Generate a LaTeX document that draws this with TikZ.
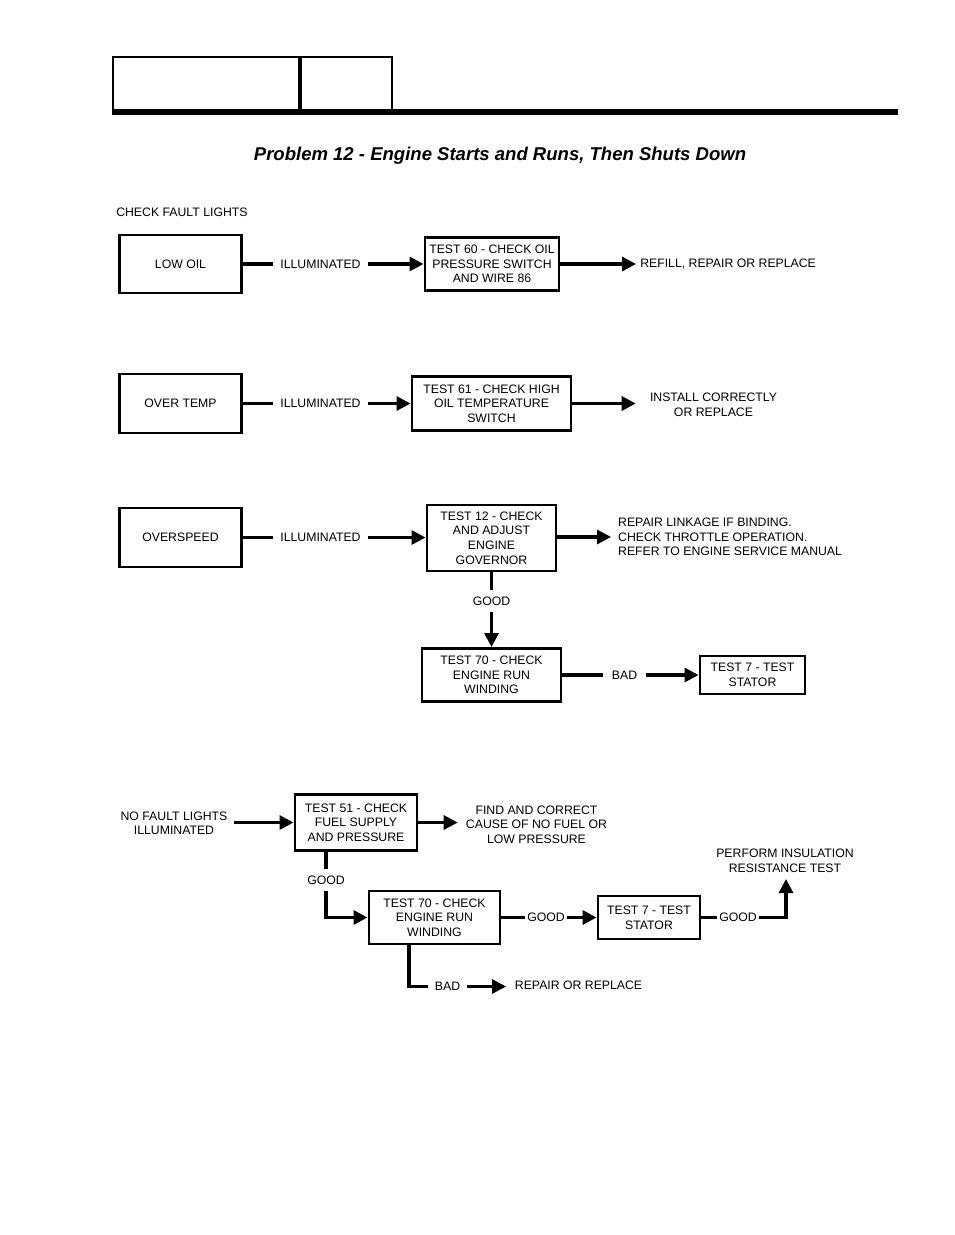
\documentclass[tikz,border=0pt]{standalone}
\usepackage{fontspec}
\setmainfont{Liberation Sans}
\usetikzlibrary{arrows.meta}
\newcommand\bodyfs{\fontsize{9.2pt}{10.9pt}\selectfont}
\newcommand\titlefs{\fontsize{13.9pt}{16pt}\selectfont\bfseries\itshape}
\begin{document}
\begin{tikzpicture}[x=0.75pt,y=-0.75pt,
  box/.style={draw, line width=2.2pt, align=center, font=\bodyfs, inner sep=0pt},
  bx/.style 2 args={box, minimum width=#1, minimum height=#2},
  lbl/.style={align=center, font=\bodyfs, inner xsep=5.6pt, inner ysep=1pt},
  vlbl/.style={align=center, font=\bodyfs, inner xsep=1pt, inner ysep=4.9pt},
  txt/.style={align=left, font=\bodyfs, inner ysep=0pt},
  conn/.style={line width=2.4pt},
  arr/.style={conn, -{Triangle[length=10.5pt,width=10.5pt]}},
  hdr/.style={line width=1.1pt}]
\useasboundingbox (0,0) rectangle (954,1235);

% header
\draw[hdr] (113,57) rectangle (299,110);
\draw[hdr] (301,57) rectangle (392,110);
\fill (112,109) rectangle (898,115);

\node[font=\titlefs] (title) at (500,156) {Problem 12 - Engine Starts and Runs, Then Shuts Down};

\node[txt, anchor=west, inner xsep=0pt] (cfl) at (116,212) {CHECK FAULT LIGHTS};

% row 1
\node[bx={92pt}{43.5pt}] (lowoil) at (180.5,264) {LOW OIL};
\node[lbl] (ill1) at (320.5,264) {ILLUMINATED};
\node[bx={100.5pt}{39.75pt}] (t60) at (492,264) {TEST 60 - CHECK OIL\\PRESSURE SWITCH\\AND WIRE 86};
\node[txt, anchor=west, inner xsep=3pt] (r1) at (636,264) {REFILL, REPAIR OR REPLACE};
\draw[conn] (lowoil) -- (ill1);
\draw[arr] (ill1) -- (t60);
\draw[arr] (t60) -- (r1);

% row 2
\node[bx={92pt}{44.25pt}] (overtemp) at (180.5,403.5) {OVER TEMP};
\node[lbl] (ill2) at (320.5,403.5) {ILLUMINATED};
\node[bx={119.25pt}{40.5pt}] (t61) at (491.5,403.5) {TEST 61 - CHECK HIGH\\OIL TEMPERATURE\\SWITCH};
\node[align=center, font=\bodyfs, inner xsep=10.5pt, inner ysep=0pt] (r2) at (713.5,405) {INSTALL CORRECTLY\\OR REPLACE};
\draw[conn] (overtemp) -- (ill2);
\draw[arr] (ill2) -- (t61);
\draw[arr] (t61) -- (t61 -| r2.west);

% row 3
\node[bx={92pt}{44.25pt}] (overspeed) at (180.5,537.5) {OVERSPEED};
\node[lbl] (ill3) at (320.5,537.5) {ILLUMINATED};
\node[bx={96.75pt}{49.5pt}] (t12) at (491.5,538) {TEST 12 - CHECK\\AND ADJUST\\ENGINE\\GOVERNOR};
\node[txt, anchor=west, inner xsep=5.2pt] (r3) at (611,537) {REPAIR LINKAGE IF BINDING.\\CHECK THROTTLE OPERATION.\\REFER TO ENGINE SERVICE MANUAL};
\draw[conn] (overspeed) -- (ill3);
\draw[arr] (ill3) -- (ill3 -| t12.west);
\draw[arr] (t12.east |- r3.west) -- (r3.west);

\node[vlbl] (good1) at (491.5,601) {GOOD};
\draw[conn] (t12) -- (good1);
\node[bx={104.25pt}{39.75pt}] (t70a) at (491.5,675) {TEST 70 - CHECK\\ENGINE RUN\\WINDING};
\draw[arr] (good1) -- (t70a);
\node[lbl, inner xsep=6.8pt] (bad1) at (624.5,675) {BAD};
\node[bx={78.75pt}{28.5pt}] (t7a) at (752.5,675) {TEST 7 - TEST\\STATOR};
\draw[conn] (t70a) -- (bad1);
\draw[arr] (bad1) -- (t7a);

% row 4
\node[align=center, font=\bodyfs, inner xsep=5pt, inner ysep=0pt] (nofault) at (174,823.5) {NO FAULT LIGHTS\\ILLUMINATED};
\node[bx={91.5pt}{42pt}] (t51) at (356,822.5) {TEST 51 - CHECK\\FUEL SUPPLY\\AND PRESSURE};
\node[align=center, font=\bodyfs, inner xsep=6pt, inner ysep=0pt] (r4) at (536.5,824.5) {FIND AND CORRECT\\CAUSE OF NO FUEL OR\\LOW PRESSURE};
\draw[arr] (nofault.east |- t51) -- (t51);
\draw[arr] (t51) -- (t51 -| r4.west);

\node[vlbl] (good2) at (326,880) {GOOD};
\draw[conn] (t51.south -| good2) -- (good2);
\node[bx={98.25pt}{39.75pt}] (t70b) at (434.5,917.5) {TEST 70 - CHECK\\ENGINE RUN\\WINDING};
\draw[arr] (good2) |- (t70b);

\node[lbl, inner xsep=1.2pt] (good3) at (546,917.5) {GOOD};
\node[bx={76.5pt}{32.25pt}] (t7b) at (649,917.5) {TEST 7 - TEST\\STATOR};
\draw[conn] (t70b) -- (good3);
\draw[arr] (good3) -- (t7b);

\node[lbl, inner xsep=1.2pt] (good4) at (738,917.5) {GOOD};
\node[align=center, font=\bodyfs, inner sep=0pt] (perf) at (785,861) {PERFORM INSULATION\\RESISTANCE TEST};
\coordinate (perfin) at (786,879);
\draw[conn] (t7b) -- (good4);
\draw[arr] (good4) -| (perfin);

\coordinate (c1) at (409,986.5);
\node[lbl, inner xsep=5.3pt] (bad2) at (447.5,986.5) {BAD};
\node[txt, anchor=west, inner xsep=6.5pt] (rep) at (506,985) {REPAIR OR REPLACE};
\draw[conn] (t70b.south -| c1) |- (bad2);
\draw[arr] (bad2) -- (bad2 -| rep.west);
\end{tikzpicture}
\end{document}
